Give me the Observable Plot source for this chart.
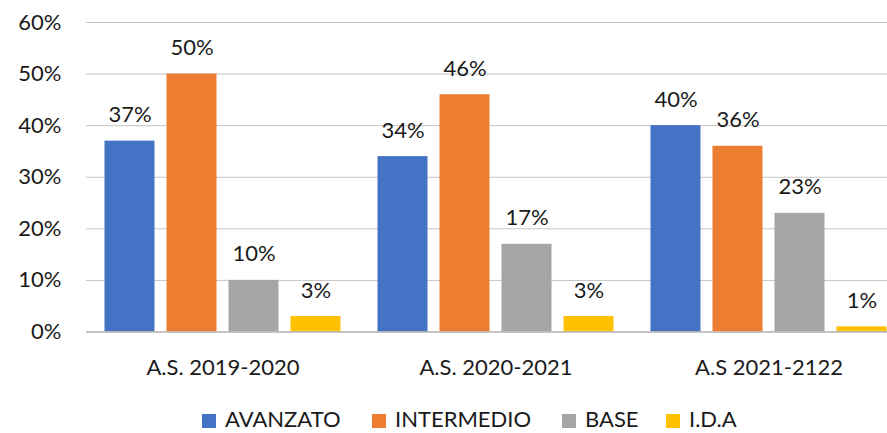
<!DOCTYPE html>
<html>
<head>
<meta charset="utf-8">
<script src="https://cdn.jsdelivr.net/npm/d3@7"></script>
<script src="https://cdn.jsdelivr.net/npm/@observablehq/plot@0.6"></script>
<style>
  html, body { margin: 0; padding: 0; background: #fff; overflow: hidden; }
  #chart svg { overflow: hidden; display: block; }
  #legend { position: relative; height: 43px; font-family: Lato, "Open Sans", sans-serif; font-size: 22px; line-height: 22px; color: #1a1a1a; }
  .sw { position: absolute; top: 24px; width: 14px; height: 14px; }
  .lt { position: absolute; top: 18px; white-space: nowrap; }
</style>
</head>
<body>
<div id="chart"></div>
<div id="legend"></div>
<script>
const groups = ["A.S. 2019-2020", "A.S. 2020-2021", "A.S 2021-2122"];
const series = ["AVANZATO", "INTERMEDIO", "BASE", "I.D.A"];
const avanzato = [37, 34, 40];
const intermedio = [50, 46, 36];
const base = [10, 17, 23];
const ida = [3, 3, 1];
const colors = ["#4472C4", "#ED7D31", "#A5A5A5", "#FFC000"];
const yTicks = [0, 10, 20, 30, 40, 50, 60];

const seriesValues = [avanzato, intermedio, base, ida];
const data = [];
groups.forEach((g, gi) => series.forEach((s, si) => data.push({group: g, series: s, value: seriesValues[si][gi]})));

const font = "Lato, 'Open Sans', sans-serif";
const chart = Plot.plot({
  width: 887,
  height: 390,
  marginTop: 22,
  marginBottom: 58.5,
  marginLeft: 85.5,
  marginRight: 0,
  style: {fontFamily: font, fontSize: "22px", color: "#1a1a1a", background: "#fff"},
  fx: {domain: groups, range: [85.5, 904.5], padding: 0, label: null, axis: "bottom", tickSize: 0, tickPadding: 27, fontSize: 23},
  x: {domain: series, paddingInner: 12 / 62, paddingOuter: 18.5 / 62, axis: null},
  y: {domain: [0, 60], ticks: yTicks, tickFormat: d => d + "%", label: null, tickSize: 0, tickPadding: 25},
  color: {domain: series, range: colors},
  marks: [
    Plot.ruleY(yTicks.filter(d => d > 0), {stroke: "#c4c4c4", strokeWidth: 1}),
    Plot.barY(data, {fx: "group", x: "series", y: "value", fill: "series"}),
    Plot.ruleY([0], {stroke: "#b0b0b0", strokeWidth: 1.3}),
    Plot.text(data, {fx: "group", x: "series", y: "value", text: d => d.value + "%", lineAnchor: "bottom", dy: -19, fontSize: 22, fill: "#1a1a1a"})
  ]
});
document.getElementById("chart").appendChild(chart);

const legend = document.getElementById("legend");
const positions = [202, 372, 562, 666];
series.forEach((s, i) => {
  const sw = document.createElement("div");
  sw.className = "sw";
  sw.style.left = positions[i] + "px";
  sw.style.background = colors[i];
  legend.appendChild(sw);
  const t = document.createElement("span");
  t.className = "lt";
  t.style.left = (positions[i] + 23) + "px";
  t.textContent = s;
  legend.appendChild(t);
});
</script>
</body>
</html>
